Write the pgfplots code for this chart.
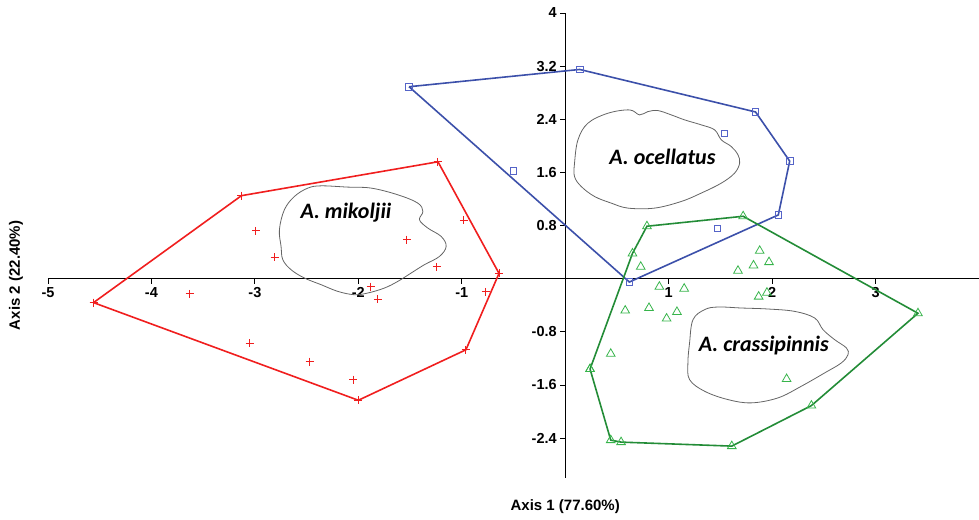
\documentclass[border=0pt]{standalone}
\usepackage{fontspec}
\setmainfont{Liberation Sans}
\newfontfamily\carlito{Carlito}
\usepackage{pgfplots}
\pgfplotsset{compat=1.18}
\definecolor{myred}{RGB}{240,30,30}
\definecolor{myblue}{RGB}{60,80,170}
\definecolor{mybluem}{RGB}{85,100,200}
\definecolor{mygreen}{RGB}{35,140,55}
\definecolor{mygreenm}{RGB}{55,180,75}
\definecolor{blobgray}{RGB}{100,100,100}
\begin{document}
\begin{tikzpicture}
\begin{axis}[
  scale only axis, width=931pt, height=465pt,
  xmin=-5, xmax=4, ymin=-3, ymax=4,
  axis lines=middle, axis line style={-, black, line width=0.8pt},
  xtick={-5,-4,-3,-2,-1,1,2,3}, xticklabels={-5,-4,-3,-2,-1,1,2,3},
  ytick={-2.4,-1.6,-0.8,0.8,1.6,2.4,3.2,4},
  yticklabels={-2.4,-1.6,-0.8,0.8,1.6,2.4,3.2,4},
  tick align=outside, major tick length=5pt,
  tick style={black, line width=0.8pt},
  ticklabel style={font=\fontsize{14.5}{16}\selectfont\bfseries},
  clip=false,
]
% blobs
\addplot[blobgray, line width=0.8pt, smooth cycle, tension=0.6] coordinates {
(-2.763,0.737) (-2.715,1.038) (-2.618,1.238) (-2.488,1.364) (-2.360,1.398)
(-2.102,1.379) (-1.876,1.364) (-1.618,1.263) (-1.425,1.138) (-1.376,1.012)
(-1.409,0.887) (-1.328,0.762) (-1.199,0.636) (-1.151,0.486) (-1.216,0.335)
(-1.361,0.211) (-1.489,0.086) (-1.618,-0.040) (-1.747,-0.140) (-1.908,-0.215)
(-2.038,-0.241) (-2.198,-0.191) (-2.360,-0.090) (-2.521,0.010) (-2.650,0.135)
(-2.730,0.286) (-2.747,0.486)};
\addplot[blobgray, line width=0.8pt, smooth cycle, tension=0.6] coordinates {
(0.090,1.739) (0.123,2.090) (0.219,2.341) (0.413,2.491) (0.622,2.541)
(0.719,2.466) (0.800,2.516) (0.896,2.531) (1.025,2.466) (1.154,2.391)
(1.315,2.316) (1.444,2.241) (1.509,2.090) (1.605,1.990) (1.670,1.865)
(1.686,1.739) (1.637,1.589) (1.509,1.439) (1.315,1.289) (1.122,1.163)
(0.864,1.063) (0.606,1.063) (0.445,1.138) (0.283,1.238) (0.155,1.388)
(0.090,1.538)};
\addplot[blobgray, line width=0.8pt, smooth cycle, tension=0.6] coordinates {
(1.202,-0.967) (1.235,-0.617) (1.347,-0.466) (1.476,-0.426) (1.702,-0.441)
(1.960,-0.456) (2.218,-0.492) (2.411,-0.591) (2.492,-0.767) (2.604,-0.917)
(2.718,-1.042) (2.734,-1.143) (2.669,-1.268) (2.508,-1.418) (2.282,-1.619)
(2.057,-1.794) (1.799,-1.869) (1.574,-1.820) (1.347,-1.694) (1.202,-1.519)
(1.186,-1.268)};
% A. mikoljii
\addplot[myred, line width=1.6pt, mark=+, mark size=4pt, mark options={myred, line width=1pt}] coordinates {
(-4.56,-0.36) (-3.13,1.25) (-1.23,1.76) (-0.64,0.08) (-0.96,-1.07) (-2.00,-1.83) (-4.56,-0.36)};
\addplot[myred, only marks, mark=+, mark size=4pt, mark options={myred, line width=1pt}] coordinates {
(-2.99,0.72) (-2.81,0.32) (-3.63,-0.23) (-3.05,-0.97) (-2.47,-1.25) (-0.98,0.88)
(-1.53,0.59) (-1.24,0.18) (-0.77,-0.20) (-1.88,-0.12) (-1.81,-0.31) (-2.05,-1.52)};
% A. ocellatus
\addplot[myblue, line width=1.6pt, mark=square, mark size=3.3pt, mark options={mybluem, line width=0.8pt}] coordinates {
(-1.51,2.89) (0.14,3.15) (1.84,2.51) (2.17,1.77) (2.06,0.96) (0.62,-0.05) (-1.51,2.89)};
\addplot[mybluem, only marks, mark=square, mark size=3.3pt, mark options={mybluem, line width=0.8pt}] coordinates {
(1.54,2.19) (1.47,0.76) (-0.50,1.62)};
% A. crassipinnis
\addplot[mygreen, line width=1.6pt, mark=triangle, mark size=5pt, mark options={mygreenm, line width=0.8pt}] coordinates {
(0.24,-1.36) (0.65,0.38) (0.79,0.79) (1.72,0.94) (3.41,-0.52) (2.38,-1.91) (1.61,-2.52) (0.54,-2.46) (0.44,-2.43) (0.24,-1.36)};
\addplot[mygreenm, only marks, mark=triangle, mark size=5pt, mark options={mygreenm, line width=0.8pt}] coordinates {
(0.73,0.18) (0.91,-0.12) (1.15,-0.15) (0.58,-0.48) (0.81,-0.44) (0.98,-0.60)
(1.08,-0.50) (0.44,-1.13) (1.67,0.12) (1.82,0.20) (1.88,0.42) (1.97,0.25)
(1.87,-0.27) (1.95,-0.21) (2.14,-1.51)};
% labels
\node[font=\carlito\fontsize{22}{26}\selectfont\bfseries\itshape] at (axis cs:-2.12,1.0) {A. mikoljii};
\node[font=\carlito\fontsize{22}{26}\selectfont\bfseries\itshape] at (axis cs:0.94,1.83) {A. ocellatus};
\node[font=\carlito\fontsize{22}{26}\selectfont\bfseries\itshape] at (axis cs:1.92,-1.0) {A. crassipinnis};
\node[font=\fontsize{15}{18}\selectfont\bfseries] at ([yshift=-29pt]axis cs:0,-3) {Axis 1 (77.60\%)};
\node[font=\fontsize{15}{18}\selectfont\bfseries, rotate=90] at ([xshift=-32pt]axis cs:-5,0.05) {Axis 2 (22.40\%)};
\coordinate (SW) at (rel axis cs:0,0);
\coordinate (NE) at (rel axis cs:1,1);
\end{axis}
\pgfresetboundingbox
\path ([shift={(-48pt,-42pt)}]SW) rectangle ([shift={(0pt,13pt)}]NE);
\end{tikzpicture}
\end{document}
